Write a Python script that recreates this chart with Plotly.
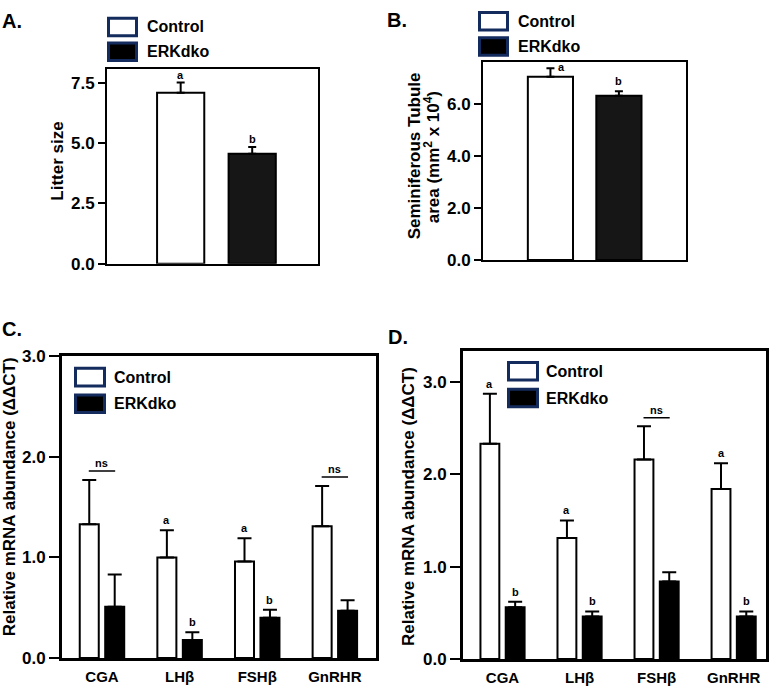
import plotly.graph_objects as go

# ---------------- data ----------------
groups = ["Control", "ERKdko"]

litter_mean = [7.08, 4.55]
litter_sem = [0.42, 0.28]
litter_sig = ["a", "b"]

tubule_mean = [7.05, 6.32]
tubule_sem = [0.33, 0.17]
tubule_sig = ["a", "b"]

genes = ["CGA", "LHβ", "FSHβ", "GnRHR"]

C_ctl_mean = [1.33, 1.00, 0.96, 1.31]
C_ctl_sem = [0.44, 0.27, 0.23, 0.40]
C_erk_mean = [0.51, 0.18, 0.40, 0.47]
C_erk_sem = [0.32, 0.075, 0.08, 0.105]
C_ctl_sig = ["", "a", "a", ""]
C_erk_sig = ["", "b", "b", ""]
C_ns = [True, False, False, True]

D_ctl_mean = [2.33, 1.31, 2.16, 1.84]
D_ctl_sem = [0.54, 0.19, 0.36, 0.28]
D_erk_mean = [0.56, 0.46, 0.84, 0.46]
D_erk_sem = [0.06, 0.055, 0.10, 0.055]
D_ctl_sig = ["a", "a", "", "a"]
D_erk_sig = ["b", "b", "", "b"]
D_ns = [False, False, True, False]

# ---------------- layout helpers ----------------
W, H = 774, 693
FONT = "Liberation Sans, Arial, sans-serif"
NAVY = "#142b5e"


def px(xp):
    return xp / W


def py(yp):
    return 1 - yp / H


fig = go.Figure()
annotations = []
shapes = []


def err(sem, w=4):
    return dict(type="data", symmetric=False, array=sem, arrayminus=[0] * len(sem),
                color="black", thickness=2, width=w, visible=True)


# ---- Panel A ----
erk_fill_ab = "#161616"
for i, (g, m, s) in enumerate(zip(groups, litter_mean, litter_sem)):
    fig.add_trace(go.Bar(x=[i], y=[m], width=0.66, name=g, showlegend=False,
                         marker=dict(color="white" if i == 0 else erk_fill_ab,
                                     line=dict(color="black", width=2)),
                         error_y=err([s]), xaxis="x", yaxis="y"))
    annotations.append(dict(x=i, y=m + s, xref="x", yref="y", text=litter_sig[i], showarrow=False,
                            yanchor="bottom", yshift=0, font=dict(size=11, weight="bold")))

# ---- Panel B ----
for i, (g, m, s) in enumerate(zip(groups, tubule_mean, tubule_sem)):
    fig.add_trace(go.Bar(x=[i], y=[m], width=0.66, name=g, showlegend=False,
                         marker=dict(color="white" if i == 0 else erk_fill_ab,
                                     line=dict(color="black", width=2)),
                         error_y=err([s]), xaxis="x2", yaxis="y2"))
    if i == 0:
        annotations.append(dict(x=i, y=m + s, xref="x2", yref="y2", text=tubule_sig[i], showarrow=False,
                                yanchor="middle", xshift=11, yshift=1, font=dict(size=11, weight="bold")))
    else:
        annotations.append(dict(x=i, y=m + s, xref="x2", yref="y2", text=tubule_sig[i], showarrow=False,
                                yanchor="bottom", yshift=2, font=dict(size=11, weight="bold")))

# ---- Panels C and D ----
bw = 0.245
half = 0.164


def gene_panel(xa, ya, ctl_m, ctl_s, erk_m, erk_s, ctl_sig, erk_sig, ns):
    fig.add_trace(go.Bar(x=genes, y=ctl_m, width=bw, offset=-half - bw / 2, name=groups[0],
                         showlegend=False,
                         marker=dict(color="white", line=dict(color="black", width=2)),
                         error_y=err(ctl_s, 7), xaxis=xa, yaxis=ya))
    fig.add_trace(go.Bar(x=genes, y=erk_m, width=bw, offset=half - bw / 2, name=groups[1],
                         showlegend=False,
                         marker=dict(color="black", line=dict(color="black", width=2)),
                         error_y=err(erk_s, 7), xaxis=xa, yaxis=ya))
    for i in range(len(genes)):
        if ctl_sig[i]:
            annotations.append(dict(x=i - half, y=ctl_m[i] + ctl_s[i], xref=xa, yref=ya,
                                    text=ctl_sig[i], showarrow=False, yanchor="bottom", yshift=2,
                                    font=dict(size=11, weight="bold")))
        if erk_sig[i]:
            annotations.append(dict(x=i + half, y=erk_m[i] + erk_s[i], xref=xa, yref=ya,
                                    text=erk_sig[i], showarrow=False, yanchor="bottom", yshift=2,
                                    font=dict(size=11, weight="bold")))
        if ns[i]:
            top = max(ctl_m[i] + ctl_s[i], erk_m[i] + erk_s[i]) + 0.09
            shapes.append(dict(type="line", xref=xa, yref=ya, x0=i - 0.17, x1=i + 0.17,
                               y0=top, y1=top, line=dict(color="black", width=1.5)))
            annotations.append(dict(x=i, y=top, xref=xa, yref=ya, text="ns", showarrow=False,
                                    yanchor="bottom", yshift=0, font=dict(size=11, weight="bold")))


gene_panel("x3", "y3", C_ctl_mean, C_ctl_sem, C_erk_mean, C_erk_sem, C_ctl_sig, C_erk_sig, C_ns)
gene_panel("x4", "y4", D_ctl_mean, D_ctl_sem, D_erk_mean, D_erk_sem, D_ctl_sig, D_erk_sig, D_ns)

# ---------------- legends (swatches) ----------------
legend_specs = [
    # box x0, x1, box tops, text x
    (107, 138, [8, 33.5], 145),
    (478, 509, [2, 28], 516),
    (74, 106, [368, 395.5], 112),
    (507, 539, [362, 389.5], 544),
]
for (x0, x1, tops, tx) in legend_specs:
    for k, t in enumerate(tops):
        shapes.append(dict(type="rect", xref="paper", yref="paper",
                           x0=px(x0 + 1.5), x1=px(x1 - 1.5), y0=py(t + 1.5), y1=py(t + 21 - 1.5),
                           fillcolor="white" if k == 0 else "black",
                           line=dict(color=NAVY, width=3), layer="above"))
        annotations.append(dict(x=px(tx), y=py(t + 10.5), xref="paper", yref="paper",
                                text=groups[k], showarrow=False, xanchor="left", yanchor="middle",
                                font=dict(size=16, weight="bold")))

# ---------------- panel letters ----------------
for letter, lx, ly in [("A.", 0, 12), ("B.", 385, 11), ("C.", 0, 329), ("D.", 386, 337.5)]:
    annotations.append(dict(x=px(lx), y=py(ly), xref="paper", yref="paper", text=letter,
                            showarrow=False, xanchor="left", yanchor="middle",
                            font=dict(size=20, weight="bold")))

# ---------------- y-axis titles ----------------
ytitles = [
    ("Litter size", 58, 157),
    ("Seminiferous Tubule", 414, 150.5),
    ("area (mm<sup>2</sup> x 10<sup>4</sup>)", 432, 152.5),
    ("Relative mRNA abundance (ΔΔCT)", 9, 502),
    ("Relative mRNA abundance (ΔΔCT)", 409, 512),
]
for txt, tx, ty in ytitles:
    annotations.append(dict(x=px(tx), y=py(ty), xref="paper", yref="paper", text=txt,
                            showarrow=False, textangle=-90, xanchor="center", yanchor="middle",
                            font=dict(size=17, weight="bold")))


# ---------------- axes ----------------
def xaxis(dom, rng, lw, labels):
    return dict(domain=[px(dom[0]), px(dom[1])], range=rng, showline=True, mirror=True,
                linecolor="black", linewidth=lw, ticks="", showgrid=False, zeroline=False,
                showticklabels=labels, tickfont=dict(size=15, weight="bold", color="black"),
                fixedrange=True)


def yaxis(anchor, dom, rng, dt, lw, tl):
    return dict(anchor=anchor, domain=[py(dom[0]), py(dom[1])], range=rng, dtick=dt, tick0=0,
                tickformat=".1f", showline=True, mirror=True, linecolor="black", linewidth=lw,
                ticks="outside", ticklen=tl, tickwidth=2, tickcolor="black", showgrid=False,
                zeroline=False, tickfont=dict(size=17, weight="bold", color="black"),
                fixedrange=True)


fig.update_layout(
    width=W, height=H, margin=dict(l=0, r=0, t=0, b=0),
    paper_bgcolor="white", plot_bgcolor="white",
    font=dict(family=FONT, color="black"),
    barmode="overlay", showlegend=False,
    xaxis=dict(xaxis((107, 318), [-1.03, 1.92], 2, False), anchor="y"),
    yaxis=yaxis("x", (262, 62), [0, 8.05], 2.5, 2, 7),
    xaxis2=dict(xaxis((483, 686), [-0.985, 1.98], 2, False), anchor="y2"),
    yaxis2=yaxis("x2", (258, 55), [0, 7.6], 2, 2, 7),
    xaxis3=dict(xaxis((62, 376), [-0.515, 3.53], 3, True), anchor="y3", ticklabelstandoff=3),
    yaxis3=yaxis("x3", (667.3, 357), [0, 3.0], 1, 3, 10),
    xaxis4=dict(xaxis((463, 766), [-0.513, 3.42], 3, True), anchor="y4", ticklabelstandoff=3),
    yaxis4=yaxis("x4", (668.3, 352), [0, 3.33], 1, 3, 10),
    annotations=annotations,
    shapes=shapes,
)

fig.write_html("out.html", config={"displayModeBar": False},
               post_script="document.body.style.margin='0';document.body.style.overflow='hidden';")
